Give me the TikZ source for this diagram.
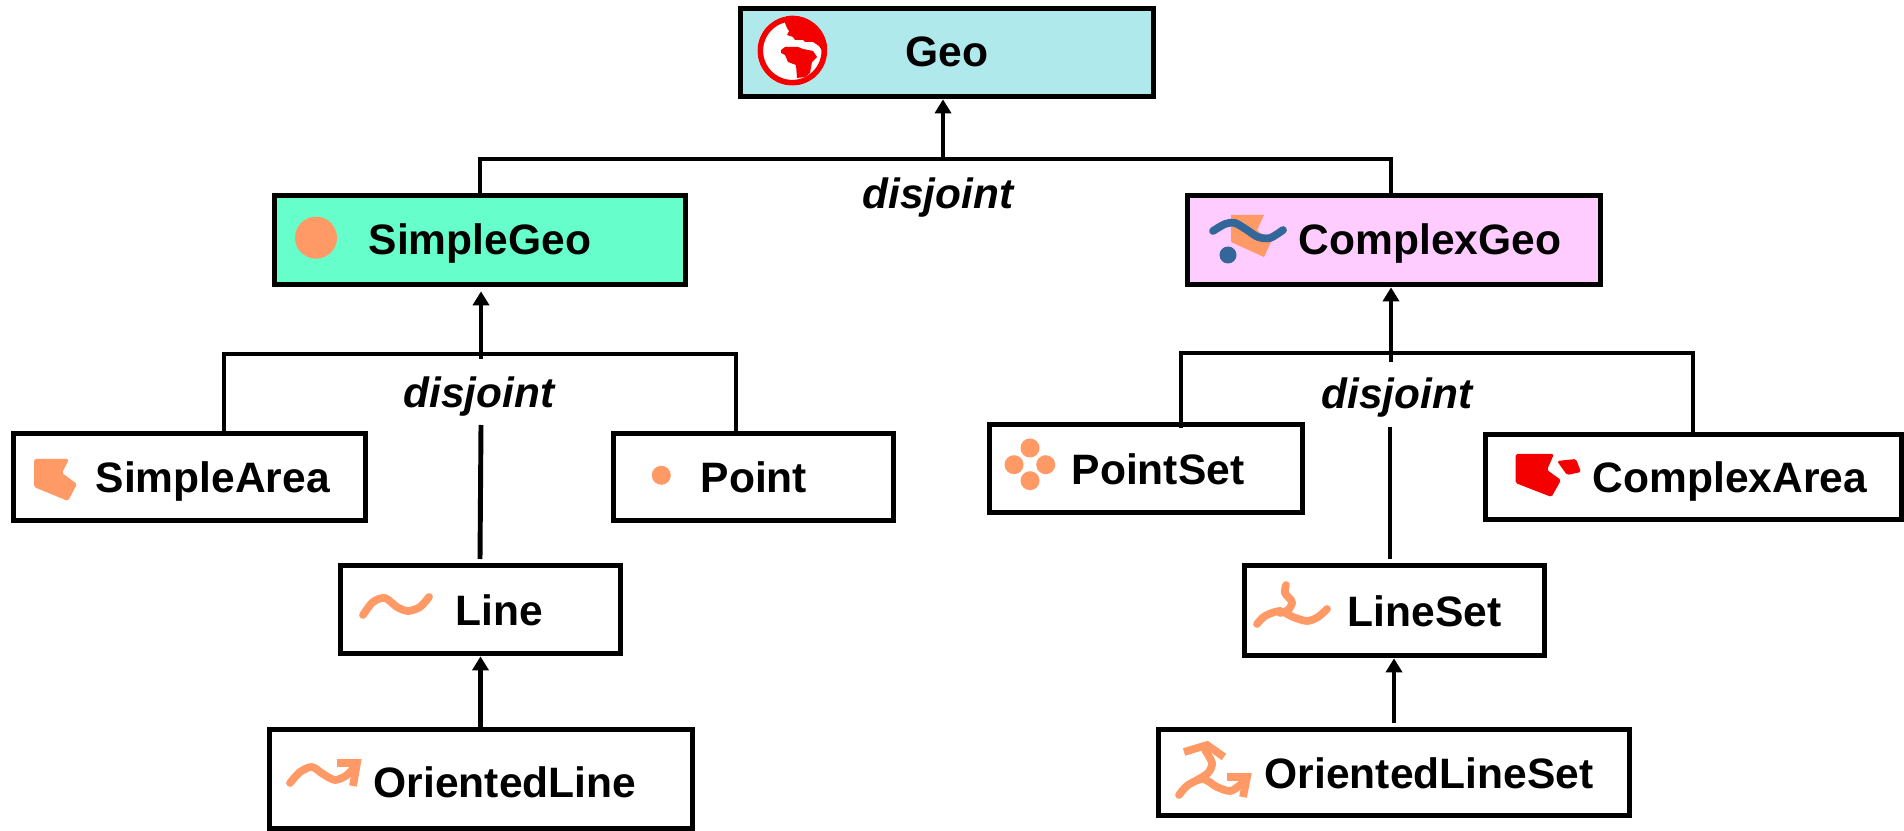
\documentclass[tikz,border=0pt]{standalone}
\usepackage{fontspec}
\setmainfont{Liberation Sans}
\usetikzlibrary{arrows.meta}
\definecolor{geoblue}{HTML}{B0E9EC}
\definecolor{simplegreen}{HTML}{66FFCC}
\definecolor{complexpink}{HTML}{FFCCFF}
\definecolor{iconorange}{HTML}{FF9966}
\definecolor{iconblue}{HTML}{336699}
\definecolor{iconred}{HTML}{F50000}
\begin{document}
\begin{tikzpicture}[
  x=0.01cm,y=-0.01cm,
  geobox/.style={draw,line width=1.6pt,rectangle,inner sep=0pt},
  geotext/.style={font=\bfseries\fontsize{12.1}{14}\selectfont,inner sep=0pt,anchor=base west},
  disjointtext/.style={geotext,font=\bfseries\itshape\fontsize{12.05}{14}\selectfont},
  bar/.style={line width=1.4pt},
  isa/.style={line width=1.3pt,-{Triangle[length=0.14cm,width=0.16cm]}},
  curve/.style={iconorange,line width=2.2pt,line cap=round,line join=round},
  head/.style={iconorange,line width=2.2pt,line join=miter},
  area/.style={rounded corners=0.5pt}
]
\useasboundingbox (0,0) rectangle (1904,831);

\node[geobox,fill=geoblue,minimum width=4.13cm,minimum height=0.88cm] (geo) at (947,52.5) {};
\node[geobox,fill=simplegreen,minimum width=4.11cm,minimum height=0.89cm] (simplegeo) at (480,240) {};
\node[geobox,fill=complexpink,minimum width=4.13cm,minimum height=0.89cm] (complexgeo) at (1394,240) {};
\node[geobox,minimum width=3.52cm,minimum height=0.87cm] (simplearea) at (189.5,477) {};
\node[geobox,minimum width=2.80cm,minimum height=0.87cm] (point) at (753.5,477) {};
\node[geobox,minimum width=2.80cm,minimum height=0.88cm] (line) at (480.5,609.5) {};
\node[geobox,minimum width=4.23cm,minimum height=0.99cm] (orientedline) at (481,779) {};
\node[geobox,minimum width=3.13cm,minimum height=0.88cm] (pointset) at (1146,468.5) {};
\node[geobox,minimum width=4.16cm,minimum height=0.85cm] (complexarea) at (1693.5,477) {};
\node[geobox,minimum width=3.00cm,minimum height=0.90cm] (lineset) at (1394.5,610.5) {};
\node[geobox,minimum width=4.71cm,minimum height=0.86cm] (orientedlineset) at (1394,772.5) {};

\node[geotext] (geotxt) at (905,67) {Geo};
\node[geotext] (simplegeotxt) at (368,255) {SimpleGeo};
\node[geotext] (complexgeotxt) at (1298,255) {ComplexGeo};
\node[geotext] (simpleareatxt) at (95,493) {SimpleArea};
\node[geotext] (pointtxt) at (700,493) {Point};
\node[geotext] (linetxt) at (455,625) {Line};
\node[geotext] (orientedlinetxt) at (373,797) {OrientedLine};
\node[geotext] (pointsettxt) at (1071,485) {PointSet};
\node[geotext] (complexareatxt) at (1592,493) {ComplexArea};
\node[geotext] (linesettxt) at (1347,626) {LineSet};
\node[geotext] (orientedlinesettxt) at (1264,788) {OrientedLineSet};

\node[disjointtext] (disjointtop) at (862,209) {disjoint};
\node[disjointtext] (disjointleft) at (403,408) {disjoint};
\node[disjointtext] (disjointright) at (1321,409) {disjoint};

\coordinate (geobar) at (943,159);
\coordinate (geobarl) at (480,159);
\coordinate (geobarr) at (1391,159);
\coordinate (simplebarl) at (224,354);
\coordinate (simplebarr) at (736,354);
\coordinate (simpleup) at (481,359);
\coordinate (simpledown) at (481,425);
\coordinate (simpleend) at (480,559);
\coordinate (complexbarl) at (1181,353);
\coordinate (complexbarr) at (1693,353);
\coordinate (complexup) at (1391,362);
\coordinate (complexdown) at (1390,427);
\coordinate (complexend) at (1390,559);
\coordinate (pointsetdrop) at (1181,428);
\coordinate (orientedsetup) at (1394,723);

\path (geobar) edge[isa] (geobar |- geo.south)
(simplegeo.north -| geobarl) edge[bar] (geobarl)
(geobarr) edge[bar] (geobarr |- complexgeo.north)
(simpleup) edge[isa,shorten >=0.04cm] (simpleup |- simplegeo.south)
(simplearea.north -| simplebarl) edge[bar] (simplebarl)
(simplebarr) edge[bar] (simplebarr |- point.north)
(simpledown) edge[bar] (simpleend)
(orientedline.north -| line.south) edge[isa] (line.south)
(complexup) edge[isa] (complexup |- complexgeo.south)
(complexdown) edge[bar] (complexend)
(orientedsetup) edge[isa] (orientedsetup |- lineset.south)
;
\draw[bar,line cap=rect] (geobarl) -- (geobarr);
\draw[bar,line cap=rect] (simplebarl) -- (simplebarr);
\draw[bar,line join=miter] (pointsetdrop) -- (complexbarl) -- (complexbarr) -- (complexbarr |- complexarea.north);

\begin{scope}
\clip (792.3,50.7) circle (35);
\fill[white] (792.3,50.7) circle (35);
\fill[iconred] (785,23) -- (787,28) -- (789,31) -- (787,35) -- (793,37) -- (795,40) -- (803,40) -- (805,42) -- (813,42) -- (819,46) -- (823,52) -- (830,46) -- (825,20) -- (787,13) -- cycle;
\fill[iconred] (781,50) -- (785,47) -- (798,47) -- (803,49) -- (813,51) -- (817,57) -- (812,62) -- (810,73) -- (805,77) -- (797,78) -- (796,65) -- (788,62) -- (785,55) -- (781,53) -- cycle;
\end{scope}
\draw[iconred,line width=1.6pt] (792.3,50.7) circle (32);

\fill[iconorange] (316,237.7) circle (21);
\fill[iconorange] (661.3,475.3) circle (9.5);
\foreach \px/\py in {1030/448,1014/464.7,1045.7/464.7,1030/480.7}
  \fill[iconorange] (\px,\py) circle (9.5);

\fill[iconorange,area] (34,459) -- (69,459) -- (62,473) -- (77,484) -- (68,501) -- (34,487) -- cycle;
\fill[iconred,area] (1515.5,454) -- (1554,454) -- (1547,470) -- (1561,480) -- (1551.5,497) -- (1515.5,483) -- cycle;
\fill[iconred,area] (1557,461) -- (1576,459) -- (1581,472) -- (1567,475) -- cycle;

\fill[iconorange] (1231,215) -- (1264,215) -- (1257,230) -- (1271,242) -- (1264,257) -- (1231,242) -- cycle;
\draw[iconblue,line width=2.2pt,line cap=round] plot[smooth] coordinates {(1213,231) (1225,224) (1235,223) (1247,230) (1258,237) (1270,238) (1283,230)};
\fill[iconblue] (1228,255) circle (8.5);

\draw[curve] plot[smooth] coordinates {(363,615) (373,602) (385,598) (397,607) (408,611) (420,607) (429,597)};

\draw[curve] plot[smooth] coordinates {(290,783) (300,772) (312,767) (323,774) (335,780) (347,775) (356,765)};
\draw[head] (337,763) -- (357,763) -- (353,786);

\draw[curve] plot[smooth] coordinates {(1257,624) (1265,616) (1280,611) (1293,617) (1307,621) (1318,617) (1327,609)};
\draw[curve] plot[smooth] coordinates {(1286,585) (1285,593) (1292,602) (1288,610) (1280,613)};

\draw[curve] plot[smooth] coordinates {(1179,795) (1188,785) (1203,779) (1217,787) (1230,791) (1240,785) (1246,777)};
\draw[curve] plot[smooth] coordinates {(1197,780) (1208,773) (1212,763) (1205,750)};
\draw[head] (1227,777) -- (1247,777) -- (1243,797);
\draw[head] (1184,752) -- (1207,745) -- (1224,757);

\end{tikzpicture}
\end{document}
